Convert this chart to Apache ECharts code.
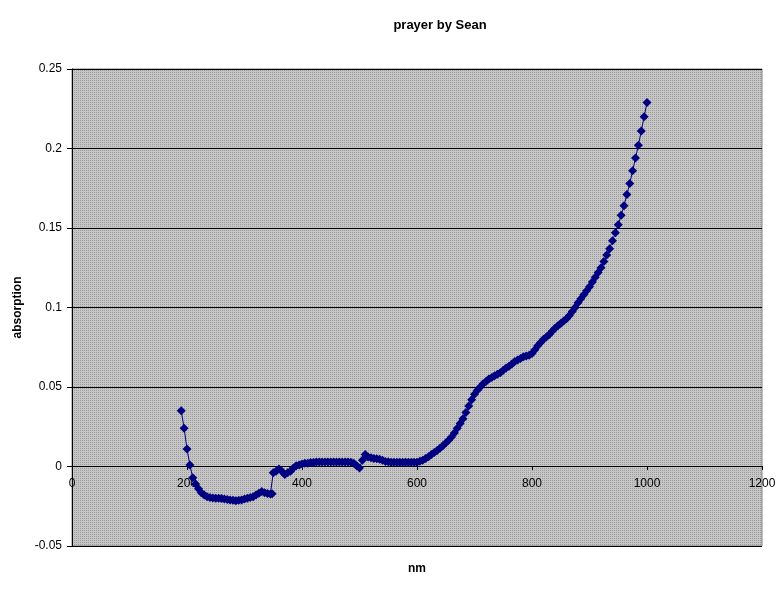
<!DOCTYPE html>
<html>
<head>
<meta charset="utf-8">
<script src="https://cdn.jsdelivr.net/npm/echarts@6/dist/echarts.min.js"></script>
<style>
  html, body { margin: 0; padding: 0; background: #fff; }
  #chart { width: 784px; height: 589px; }
</style>
</head>
<body>
<div id="chart"></div>
<script>
// wavelength (nm) and absorption
const wavelength = [
  190, 195, 200, 205, 210, 215, 220, 225, 230, 235, 240, 245, 250, 255, 260, 265, 270, 275, 280, 285,
  290, 295, 300, 305, 310, 315, 320, 325, 330, 335, 340, 345, 348, 350, 355, 360, 365, 370, 375, 380,
  385, 390, 395, 400, 405, 410, 415, 420, 425, 430, 435, 440, 445, 450, 455, 460, 465, 470, 475, 480,
  485, 490, 495, 500, 505, 510, 515, 520, 525, 530, 535, 540, 545, 550, 555, 560, 565, 570, 575, 580,
  585, 590, 595, 600, 605, 610, 615, 620, 625, 630, 635, 640, 645, 650, 655, 660, 665, 670, 675, 680,
  685, 690, 695, 700, 705, 710, 715, 720, 725, 730, 735, 740, 745, 750, 755, 760, 765, 770, 775, 780,
  785, 790, 795, 800, 805, 810, 815, 820, 825, 830, 835, 840, 845, 850, 855, 860, 865, 870, 875, 880,
  885, 890, 895, 900, 905, 910, 915, 920, 925, 930, 935, 940, 945, 950, 955, 960, 965, 970, 975, 980,
  985, 990, 995, 1000
];
const absorption = [
  0.035, 0.024, 0.011, 0.001, -0.007, -0.011, -0.014, -0.0165, -0.018, -0.019, -0.0195, -0.0198, -0.02, -0.02, -0.0202, -0.0205, -0.0207, -0.021, -0.0213, -0.0215,
  -0.0212, -0.021, -0.0205, -0.02, -0.0195, -0.019, -0.018, -0.0168, -0.0158, -0.0165, -0.017, -0.0173, -0.0172, -0.004, -0.003, -0.0015, -0.003, -0.005, -0.004, -0.003,
  -0.001, 0.0005, 0.001, 0.0015, 0.002, 0.002, 0.0025, 0.0025, 0.0028, 0.0028, 0.0028, 0.0028, 0.0028, 0.0028, 0.0028, 0.0028, 0.0028, 0.0028, 0.0028, 0.0028,
  0.0026, 0.002, 0.0005, -0.001, 0.004, 0.0075, 0.006, 0.0055, 0.005, 0.0048, 0.0045, 0.004, 0.0032, 0.003, 0.0027, 0.0027, 0.0027, 0.0027, 0.0027, 0.0027,
  0.0027, 0.0027, 0.0027, 0.0027, 0.0033, 0.004, 0.005, 0.0062, 0.0075, 0.0088, 0.01, 0.0115, 0.013, 0.0148, 0.0165, 0.0185, 0.021, 0.024, 0.027, 0.03,
  0.034, 0.038, 0.042, 0.0455, 0.048, 0.05, 0.052, 0.0535, 0.055, 0.056, 0.057, 0.058, 0.059, 0.0605, 0.062, 0.063, 0.0645, 0.066, 0.067, 0.068,
  0.069, 0.0695, 0.07, 0.071, 0.0735, 0.076, 0.078, 0.08, 0.0815, 0.083, 0.085, 0.087, 0.0885, 0.09, 0.0915, 0.093, 0.095, 0.0975, 0.1, 0.103,
  0.1055, 0.108, 0.1105, 0.113, 0.116, 0.119, 0.122, 0.125, 0.129, 0.133, 0.137, 0.142, 0.147, 0.152, 0.158, 0.164, 0.171, 0.178, 0.186, 0.194,
  0.202, 0.211, 0.22, 0.229
];

// dotted gray fill like the old spreadsheet plot area
const tile = document.createElement("canvas");
tile.width = 2;
tile.height = 2;
const tctx = tile.getContext("2d");
tctx.fillStyle = "#c6c6c6";
tctx.fillRect(0, 0, 2, 2);
tctx.fillStyle = "#9c9c9c";
tctx.fillRect(0, 0, 1, 1);

const font = "Liberation Sans, Arial, sans-serif";
const chart = echarts.init(document.getElementById("chart"), null, { renderer: "canvas" });

chart.setOption({
  animation: false,
  title: {
    text: "prayer by Sean",
    left: 435,
    textAlign: "center",
    top: 14,
    textStyle: { fontFamily: font, fontSize: 13, fontWeight: "bold", color: "#000" },
  },
  grid: {
    left: 72, right: 22, top: 69, bottom: 43,
    outerBoundsMode: "none",
    containLabel: false,
    show: true,
    backgroundColor: { image: tile, repeat: "repeat" },
    borderColor: "#808080",
    borderWidth: 1,
  },
  xAxis: {
    type: "value",
    min: 0,
    max: 1200,
    interval: 200,
    // axis sits on the zero line, 80px above the plot bottom
    offset: -80,
    name: "nm",
    nameLocation: "middle",
    nameGap: 97,
    nameTextStyle: { fontFamily: font, fontSize: 12, fontWeight: "bold", color: "#000" },
    axisLine: { onZero: false, lineStyle: { color: "#000", width: 1 } },
    axisTick: { show: true, inside: false, length: 4, lineStyle: { color: "#000" } },
    axisLabel: { fontFamily: font, fontSize: 12, color: "#000", margin: 12, formatter: (v) => String(v) },
    splitLine: { show: false },
  },
  yAxis: {
    type: "value",
    min: -0.05,
    max: 0.25,
    interval: 0.05,
    name: "absorption",
    nameLocation: "middle",
    nameGap: 47,
    nameTextStyle: { fontFamily: font, fontSize: 12, fontWeight: "bold", color: "#000" },
    axisLine: { show: true, lineStyle: { color: "#000", width: 1 } },
    axisTick: { show: true, inside: false, length: 5, lineStyle: { color: "#000" } },
    axisLabel: { fontFamily: font, fontSize: 12, color: "#000", margin: 10 },
    splitLine: { show: true, lineStyle: { color: "#000", width: 1 } },
  },
  series: [
    {
      type: "line",
      data: wavelength.map((w, i) => [w, absorption[i]]),
      symbol: "diamond",
      symbolSize: 9,
      showAllSymbol: true,
      itemStyle: { color: "#000080" },
      lineStyle: { color: "#000080", width: 1 },
    },
  ],
});
</script>
</body>
</html>
